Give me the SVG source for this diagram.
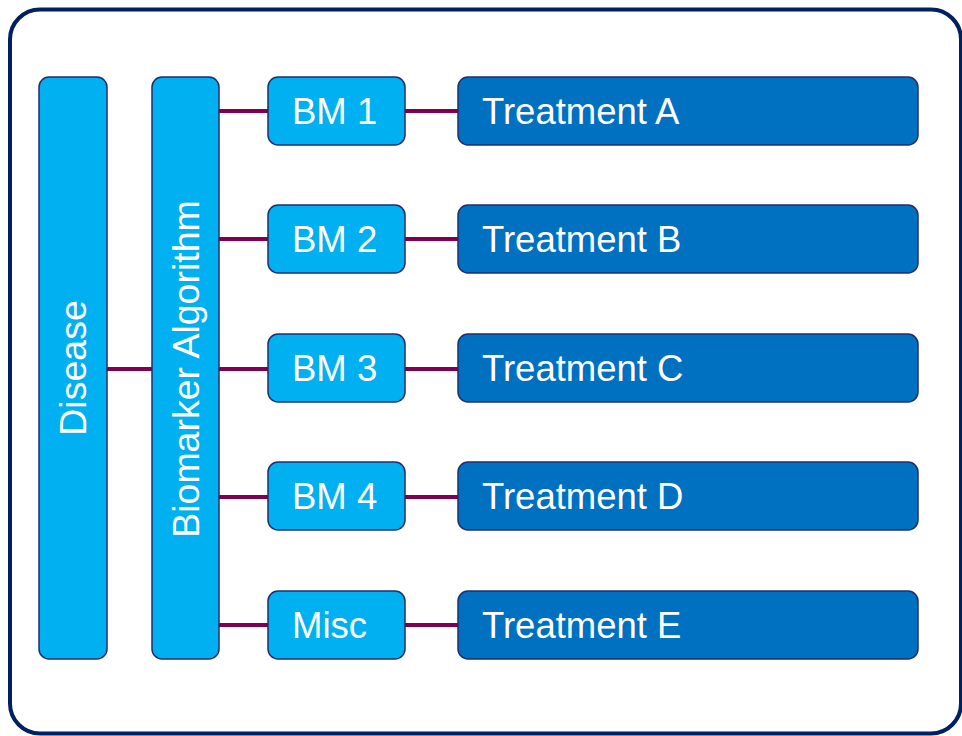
<svg xmlns="http://www.w3.org/2000/svg" width="962" height="736" viewBox="0 0 962 736">
<style>
.frame{fill:#fff;stroke:#002060;stroke-width:4}
.lt{fill:#00B0F0;stroke:#1F2F6B;stroke-width:1.5}
.dk{fill:#0070C0;stroke:#1F2F6B;stroke-width:1.5}
.t{fill:#fff;font-family:"Liberation Sans",Arial,sans-serif;font-size:36.5px}
.r{font-size:37.5px}
.c{stroke:#7F004F;stroke-width:4;fill:none}
</style>
<rect class="frame" x="10" y="9.5" width="951" height="724" rx="30"/>
<g id="connectors">
<line class="c" x1="107" y1="369" x2="152" y2="369"/>
<line class="c" x1="219" y1="111" x2="268" y2="111"/>
<line class="c" x1="219" y1="239" x2="268" y2="239"/>
<line class="c" x1="219" y1="369" x2="268" y2="369"/>
<line class="c" x1="219" y1="497" x2="268" y2="497"/>
<line class="c" x1="219" y1="625" x2="268" y2="625"/>
<line class="c" x1="405" y1="111" x2="458" y2="111"/>
<line class="c" x1="405" y1="239" x2="458" y2="239"/>
<line class="c" x1="405" y1="369" x2="458" y2="369"/>
<line class="c" x1="405" y1="497" x2="458" y2="497"/>
<line class="c" x1="405" y1="625" x2="458" y2="625"/>
</g>
<g id="disease"><rect class="lt" x="39" y="77" width="68" height="582" rx="10"/><text class="t r" text-anchor="middle" transform="translate(86,368) rotate(-90)">Disease</text></g>
<g id="algorithm"><rect class="lt" x="152" y="77" width="67" height="582" rx="10"/><text class="t r" text-anchor="middle" transform="translate(199,369) rotate(-90)">Biomarker Algorithm</text></g>
<g id="bm1"><rect class="lt" x="268" y="77" width="137" height="68" rx="10"/><text class="t" x="292" y="124">BM 1</text></g>
<g id="bm2"><rect class="lt" x="268" y="205" width="137" height="68" rx="10"/><text class="t" x="292" y="252">BM 2</text></g>
<g id="bm3"><rect class="lt" x="268" y="334" width="137" height="68" rx="10"/><text class="t" x="292" y="381">BM 3</text></g>
<g id="bm4"><rect class="lt" x="268" y="462" width="137" height="68" rx="10"/><text class="t" x="292" y="509">BM 4</text></g>
<g id="misc"><rect class="lt" x="268" y="591" width="137" height="68" rx="10"/><text class="t" x="292" y="638">Misc</text></g>
<g id="ta"><rect class="dk" x="458" y="77" width="460" height="68" rx="10"/><text class="t" x="482" y="124">Treatment A</text></g>
<g id="tb"><rect class="dk" x="458" y="205" width="460" height="68" rx="10"/><text class="t" x="482" y="252">Treatment B</text></g>
<g id="tc"><rect class="dk" x="458" y="334" width="460" height="68" rx="10"/><text class="t" x="482" y="381">Treatment C</text></g>
<g id="td"><rect class="dk" x="458" y="462" width="460" height="68" rx="10"/><text class="t" x="482" y="509">Treatment D</text></g>
<g id="te"><rect class="dk" x="458" y="591" width="460" height="68" rx="10"/><text class="t" x="482" y="638">Treatment E</text></g>
</svg>
